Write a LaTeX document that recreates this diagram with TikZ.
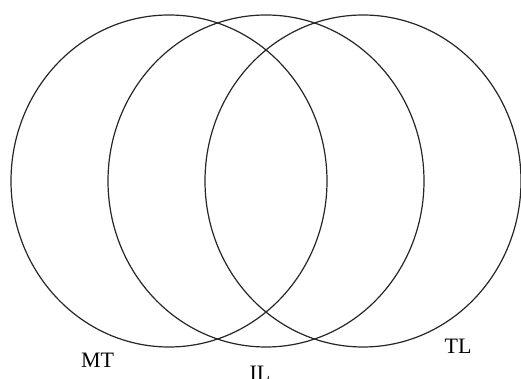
\documentclass[tikz,border=0pt]{standalone}
\usepackage{fontspec}
\setmainfont{Liberation Serif}
\usetikzlibrary{shapes.geometric}
\begin{document}
\begin{tikzpicture}[x=1pt,y=1pt,
  setring/.style={ellipse, draw=black!85, line width=1.2pt, minimum width=316pt, minimum height=332pt, inner sep=0pt},
  setlabel/.style={font=\fontsize{22}{24}\selectfont, anchor=base, inner sep=0pt}]
\useasboundingbox (0,0) rectangle (521,379);
\node[setring] (mt) at (169,198) {};
\node[setring] (il) at (266,198) {};
\node[setring] (tl) at (363,198) {};
\node[setlabel] (mtl) at (97.5,11) {MT};
\node[setlabel] (ill) at (260,-2) {IL};
\node[setlabel] (tll) at (458,25) {TL};
\end{tikzpicture}
\end{document}
